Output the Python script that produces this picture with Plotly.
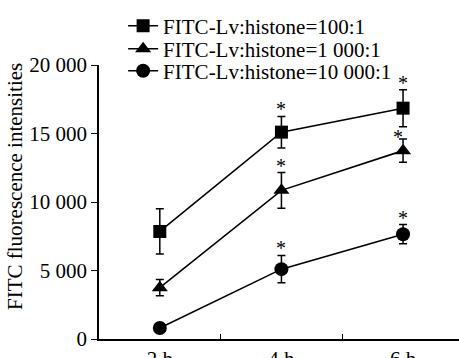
import plotly.graph_objects as go

categories = ["2 h", "4 h", "6 h"]
series_names = ["FITC-Lv:histone=100:1", "FITC-Lv:histone=1 000:1", "FITC-Lv:histone=10 000:1"]
vals_100 = [7850, 15100, 16850]
err_100 = [1650, 1150, 1350]
vals_1000 = [3750, 10850, 13750]
err_1000 = [600, 1300, 850]
vals_10000 = [800, 5100, 7650]
err_10000 = [250, 1000, 700]
signif_100 = [False, True, True]
signif_1000 = [False, True, True]
signif_10000 = [False, True, True]
ytick_vals = [0, 5000, 10000, 15000, 20000]
ytick_text = ["0", "5 000", "10 000", "15 000", "20 000"]
y_title = "FITC fluorescence intensities"

FONT = "Liberation Serif"
symbols = ["square", "triangle-up", "circle"]
sizes = [13, 14, 14]
legend_ids = ["legend", "legend2", "legend3"]
legend_row_px = [25, 48, 70]

fig = go.Figure()
all_vals = [vals_100, vals_1000, vals_10000]
all_errs = [err_100, err_1000, err_10000]
all_sig = [signif_100, signif_1000, signif_10000]
for name, v, e, sym, sz, lg in zip(series_names, all_vals, all_errs, symbols, sizes, legend_ids):
    fig.add_trace(go.Scatter(
        x=categories, y=v, name=name, mode="lines+markers", legend=lg,
        line=dict(color="black", width=1.6),
        marker=dict(symbol=sym, size=sz, color="black"),
        error_y=dict(type="data", array=e, visible=True, color="black", thickness=1.5, width=4),
    ))

annotations = []
for si, (v, e, sig) in enumerate(zip(all_vals, all_errs, all_sig)):
    for i, c in enumerate(categories):
        if sig[i]:
            xs = -5 if (si == 1 and i == 2) else 0
            ys = -11 if (si == 1 and i == 2) else -6
            annotations.append(dict(x=c, y=v[i] + e[i], xref="x", yref="y", text="*",
                                    showarrow=False, yanchor="bottom", xshift=xs, yshift=ys,
                                    font=dict(family=FONT, size=20, color="black")))

annotations.append(dict(x=(15 - 99) / 360, y=(339 - 187) / 274, xref="paper", yref="paper",
                        text=y_title, showarrow=False, textangle=-90,
                        xanchor="center", yanchor="middle",
                        font=dict(family=FONT, size=21, color="black")))

layout_legends = {}
for lg, row in zip(legend_ids, legend_row_px):
    layout_legends[lg] = dict(x=0.067, y=(339 - (row - 19.4)) / 274, xanchor="left", yanchor="top",
                              bgcolor="rgba(0,0,0,0)",
                              font=dict(family=FONT, size=21, color="black"))

fig.update_layout(
    width=459, height=358,
    margin=dict(l=99, r=0, t=65, b=19, autoexpand=False),
    paper_bgcolor="white", plot_bgcolor="white",
    font=dict(family=FONT, size=21, color="black"),
    showlegend=True,
    annotations=annotations,
    **layout_legends,
)

fig.update_xaxes(type="category", range=[-0.5, 2.46], showline=True, linecolor="black", linewidth=1.5,
                 ticks="inside", tickson="boundaries", ticklen=5, tickcolor="black", tickwidth=1.2,
                 showgrid=False, zeroline=False, automargin=False,
                 tickfont=dict(family=FONT, size=21, color="black"))
fig.update_yaxes(range=[0, 20000], tickvals=ytick_vals, ticktext=ytick_text, showline=True,
                 linecolor="black", linewidth=1.5, ticks="outside", ticklen=6, tickcolor="black",
                 tickwidth=1.2, showgrid=False, zeroline=False, automargin=False,
                 tickfont=dict(family=FONT, size=21, color="black"))

fig.write_html("out.html")
